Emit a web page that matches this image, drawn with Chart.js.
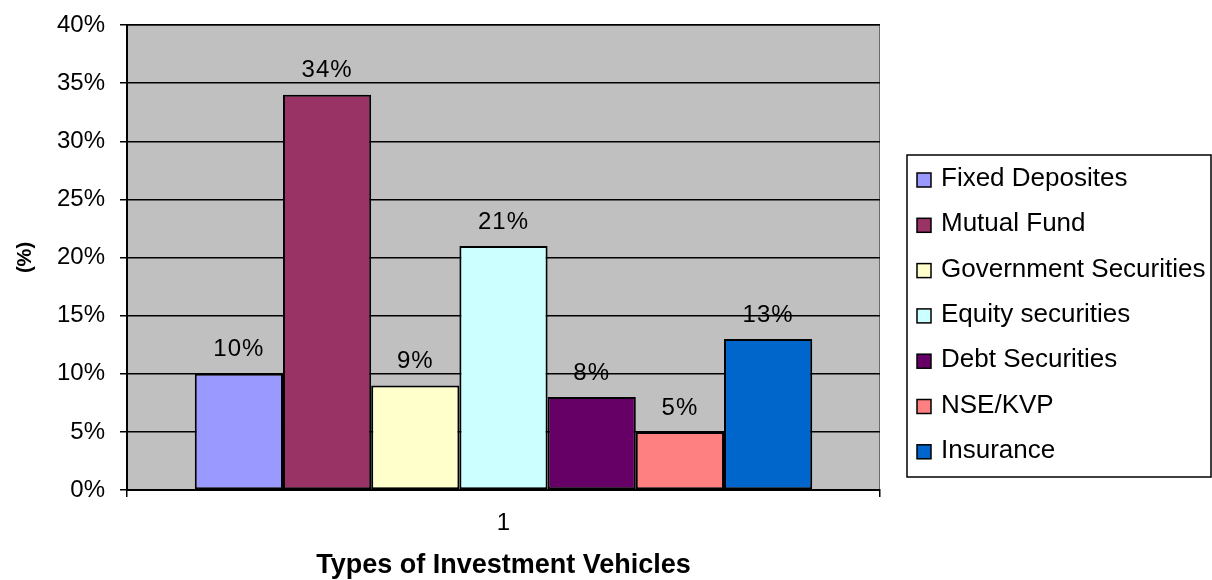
<!DOCTYPE html>
<html lang="en">
<head>
    <meta charset="UTF-8">
    <title>Types of Investment Vehicles</title>
    <script src="https://cdn.jsdelivr.net/npm/chart.js"></script>
    <style>
        html, body { margin: 0; padding: 0; background: #fff; }
        #wrap { width: 1212px; height: 580px; position: relative; }
    </style>
</head>
<body>
    <div id="wrap">
        <canvas id="investChart" width="1212" height="580"></canvas>
    </div>

    <script>
        // chart data
        const categories = ['1'];
        const seriesNames = ['Fixed Deposites', 'Mutual Fund', 'Government Securities',
            'Equity securities', 'Debt Securities', 'NSE/KVP', 'Insurance'];
        const seriesValues = [10, 34, 9, 21, 8, 5, 13];
        const seriesColors = ['#9999FF', '#993366', '#FFFFCC', '#CCFFFF', '#660066', '#FF8080', '#0066CC'];
        const yTicks = [0, 5, 10, 15, 20, 25, 30, 35, 40];

        const FONT = 'Arial, "Liberation Sans", sans-serif';

        // grey plot area behind the bars
        const plotBackground = {
            id: 'plotBackground',
            beforeDraw(chart) {
                const { ctx, chartArea: a } = chart;
                ctx.save();
                ctx.fillStyle = '#C0C0C0';
                ctx.fillRect(a.left, a.top, a.right - a.left, a.bottom - a.top);
                ctx.strokeStyle = '#6b6b6b';
                ctx.lineWidth = 1;
                ctx.strokeRect(a.left + 0.5, a.top + 0.5, a.right - a.left - 1, a.bottom - a.top);
                ctx.restore();
            }
        };

        // value labels above bars
        const valueLabels = {
            id: 'valueLabels',
            afterDatasetsDraw(chart) {
                const ctx = chart.ctx;
                ctx.save();
                ctx.font = '24px ' + FONT;
                ctx.letterSpacing = '1px';
                ctx.fillStyle = '#000';
                ctx.textAlign = 'center';
                ctx.textBaseline = 'bottom';
                chart.data.datasets.forEach((ds, i) => {
                    chart.getDatasetMeta(i).data.forEach((bar, j) => {
                        ctx.fillText(ds.data[j] + '%', bar.x, bar.y - 12);
                    });
                });
                ctx.restore();
            }
        };

        // boxed legend on the right
        const boxLegend = {
            id: 'boxLegend',
            afterDraw(chart) {
                const ctx = chart.ctx;
                const x = 907, y = 155, w = 304, h = 322;
                ctx.save();
                ctx.strokeStyle = '#000';
                ctx.lineWidth = 1.5;
                ctx.strokeRect(x, y, w, h);
                ctx.font = '26px ' + FONT;
                ctx.textBaseline = 'middle';
                chart.data.datasets.forEach((ds, i) => {
                    const cy = y + 24 + i * 45.3;
                    ctx.fillStyle = ds.backgroundColor;
                    ctx.fillRect(917, cy - 6, 14, 14);
                    ctx.strokeStyle = '#000';
                    ctx.lineWidth = 1.5;
                    ctx.strokeRect(917, cy - 6, 14, 14);
                    ctx.fillStyle = '#000';
                    ctx.fillText(ds.label, 941, cy);
                });
                ctx.restore();
            }
        };

        const datasets = seriesNames.map((name, i) => ({
            label: name,
            data: [seriesValues[i]],
            backgroundColor: seriesColors[i],
            borderColor: '#000',
            borderWidth: 2,
            borderSkipped: false,
            categoryPercentage: 0.82,
            barPercentage: 1.0
        }));

        const ctx = document.getElementById('investChart').getContext('2d');
        new Chart(ctx, {
            type: 'bar',
            data: { labels: categories, datasets: datasets },
            plugins: [plotBackground, valueLabels, boxLegend],
            options: {
                responsive: false,
                animation: false,
                devicePixelRatio: 1,
                layout: { padding: { top: 25, right: 332, left: 0, bottom: 0 } },
                plugins: {
                    legend: { display: false },
                    tooltip: { enabled: false }
                },
                scales: {
                    x: {
                        grid: { display: true, drawOnChartArea: false, color: '#000', lineWidth: 1.5, tickLength: 7 },
                        border: { color: '#000', width: 2 },
                        ticks: { color: '#000', font: { family: FONT, size: 24 }, padding: 12 },
                        title: {
                            display: true, text: 'Types of Investment Vehicles', color: '#000',
                            font: { family: FONT, size: 27, weight: 'bold' }, padding: { top: 0, bottom: -2 }
                        },
                        afterFit(scale) { scale.height = 90; }
                    },
                    y: {
                        min: 0, max: 40,
                        afterBuildTicks(scale) { scale.ticks = yTicks.map(v => ({ value: v })); },
                        grid: { color: '#000', lineWidth: 1.5, tickLength: 7 },
                        border: { color: '#000', width: 2 },
                        ticks: {
                            color: '#000', font: { family: FONT, size: 24 }, padding: 15,
                            callback: v => v + '%'
                        },
                        title: {
                            display: true, text: '(%)', color: '#000',
                            font: { family: FONT, size: 20, weight: 'bold' }, padding: { top: 13, bottom: 0 }
                        },
                        afterFit(scale) {
                            scale.width = 127;
                            scale.paddingTop = 0;
                            scale.paddingBottom = 0;
                        }
                    }
                }
            }
        });
    </script>
</body>
</html>
